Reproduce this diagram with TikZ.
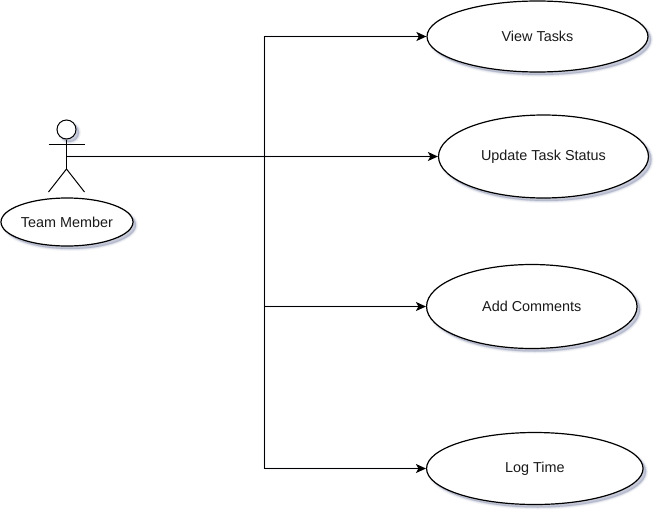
\documentclass[tikz,border=0pt]{standalone}
\usepackage{fontspec}
\setmainfont{Liberation Sans}
\usetikzlibrary{shapes.geometric,arrows.meta,shadows}
\definecolor{shadowblue}{HTML}{6A749C}
\definecolor{inkline}{HTML}{000000}
\definecolor{inktext}{HTML}{1A1A1A}
\tikzset{
  softshadow/.style={
    general shadow={shadow xshift=3pt,shadow yshift=-3pt,fill=shadowblue,draw=shadowblue,line width=4pt,opacity=.08},
    general shadow={shadow xshift=3pt,shadow yshift=-3pt,fill=shadowblue,draw=shadowblue,line width=2pt,opacity=.12},
    general shadow={shadow xshift=3pt,shadow yshift=-3pt,fill=shadowblue,draw=shadowblue,line width=.2pt,opacity=.2}},
  usecase/.style={ellipse,draw=inkline,line width=1.2pt,fill=white,inner sep=0pt,text=inktext,
    font=\fontsize{14.4}{16}\selectfont,softshadow},
  stick/.style={draw=inkline,line width=1pt},
  link/.style={draw=inkline,line width=1.4pt},
  linkshade/.style={draw=shadowblue,line width=3pt,opacity=.08},
  flow/.style={link,-{Stealth[length=10pt,width=9pt,inset=2.5pt]}}
}
\begin{document}
\begin{tikzpicture}[x=1pt,y=-1pt]
\useasboundingbox[fill=white] (0,0) rectangle (663,519);
% named anchor points
\coordinate (armL) at (48.5,144.5);
\coordinate (armR) at (84.5,144.5);
\coordinate (hip) at (66.5,169);
\coordinate (legL) at (48.5,192);
\coordinate (legR) at (84.5,192);
\coordinate (grip) at (66.5,156.5);
\coordinate (bus) at (264.5,156.5);
% use cases
\node[usecase,minimum width=221pt,minimum height=71pt] (view) at (537.5,36.5) {View Tasks};
\node[usecase,minimum width=210pt,minimum height=83pt] (update) at (543.5,156.5) {Update Task Status};
\node[usecase,minimum width=210.5pt,minimum height=84pt] (comments) at (531.8,306.5) {Add Comments};
\node[usecase,minimum width=216.5pt,minimum height=72pt] (logtime) at (534.8,468.5) {Log Time};
\node[usecase,minimum width=132pt,minimum height=48pt] (member) at (67,222) {Team Member};
% connector shadows
\begin{scope}[shift={(3,3)}]
  \draw[linkshade] (grip) -- (bus);
  \draw[linkshade] (bus |- view.west) -- (bus |- logtime.west);
  \draw[linkshade] (bus |- view.west) -- ([xshift=-6pt]view.west);
  \draw[linkshade] (bus) -- ([xshift=-6pt]update.west);
  \draw[linkshade] (bus |- comments.west) -- ([xshift=-6pt]comments.west);
  \draw[linkshade] (bus |- logtime.west) -- ([xshift=-6pt]logtime.west);
\end{scope}
% actor
\node[circle,stick,fill=white,minimum size=19pt,inner sep=0pt,softshadow] (head) at (66.5,129.5) {};
\draw[stick] (head.south) -- (hip);
\draw[stick] (armL) -- (armR);
\draw[stick] (legL) -- (hip) -- (legR);
% connectors
\draw[flow] (grip) -- (bus) |- (view.west);
\draw[flow] (grip) -- (update.west);
\draw[flow] (grip) -- (bus) |- (comments.west);
\draw[flow] (grip) -- (bus) |- (logtime.west);
\end{tikzpicture}
\end{document}
